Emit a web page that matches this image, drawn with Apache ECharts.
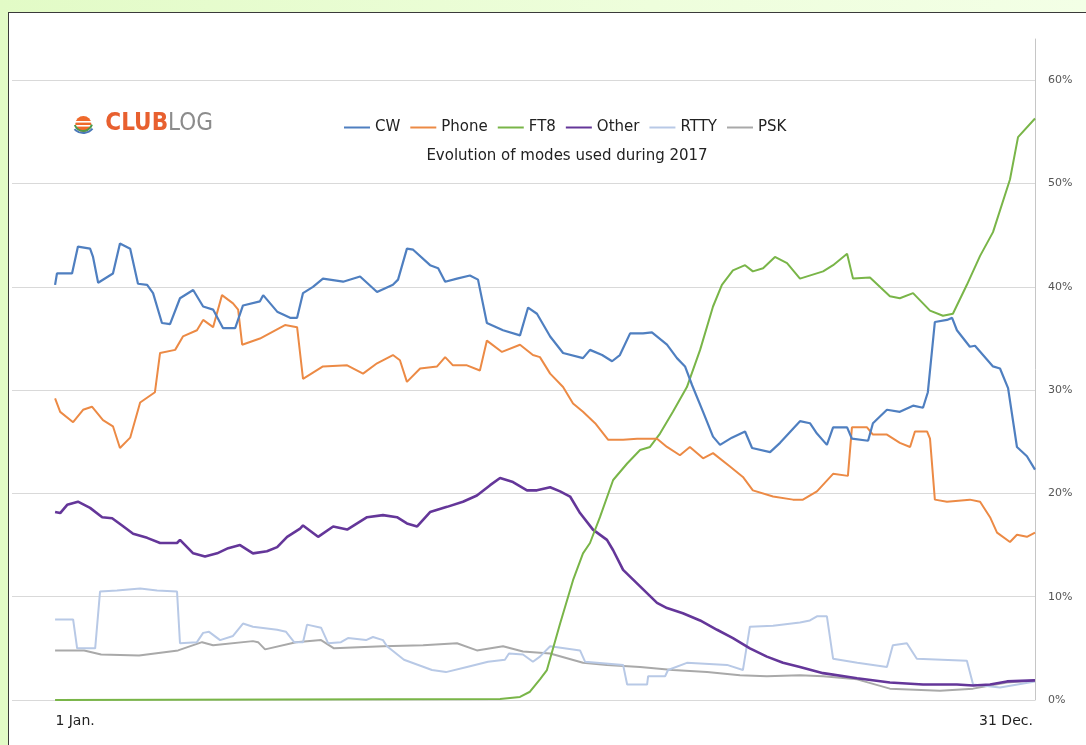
<!DOCTYPE html>
<html>
<head>
<meta charset="utf-8">
<title>Evolution of modes used during 2017</title>
<script src="https://cdn.jsdelivr.net/npm/echarts@6/dist/echarts.min.js"></script>
<style>
  html, body { margin: 0; padding: 0; }
  body {
    width: 1086px; height: 745px; overflow: hidden; position: relative;
    background: linear-gradient(90deg, #e2fbc6 0%, #eefedc 60%, #f3ffe6 100%);
  }
  #panel {
    position: absolute; left: 8px; top: 12px; width: 1090px; height: 740px;
    background: #fff; border-left: 1px solid #3a3a3a; border-top: 1px solid #3a3a3a;
  }
  #chart { position: absolute; left: 0; top: 0; width: 1086px; height: 745px; }
</style>
</head>
<body>
<div id="panel"></div>
<div id="chart"></div>
<script>
// modes, in legend order
const modes = ['CW', 'Phone', 'FT8', 'Other', 'RTTY', 'PSK'];
const chartTitle = 'Evolution of modes used during 2017';
// x = day of the year (0 = 1 Jan., 364 = 31 Dec.), y = share in %
const dayLabels = [[0, '1 Jan.'], [364, '31 Dec.']];
const pctTicks = [0, 10, 20, 30, 40, 50, 60];

const cwData = [
  [0, 40.2], [0.7, 41.3], [6.3, 41.3], [8.5, 43.9], [13, 43.7], [14.1, 42.9], [16, 40.4],
  [21.5, 41.3], [24.1, 44.2], [27.9, 43.7], [30.8, 40.3], [34.2, 40.2], [36.4, 39.4],
  [39.7, 36.5], [42.7, 36.4], [46.4, 38.9], [51.3, 39.7], [55, 38.1], [58.7, 37.8],
  [62.4, 36.0], [66.9, 36.0], [69.8, 38.2], [76.1, 38.6], [77.3, 39.2], [82.5, 37.6],
  [87.3, 37.0], [89.9, 37.0], [92.1, 39.4], [95.8, 40.0], [99.5, 40.8], [107, 40.5],
  [113.3, 41.0], [119.6, 39.5], [125.5, 40.2], [127.4, 40.7], [130.7, 43.7], [133, 43.6],
  [139.3, 42.1], [142.3, 41.8], [144.9, 40.5], [149.3, 40.8], [154.1, 41.1], [157.1, 40.7],
  [160.4, 36.5], [166.4, 35.8], [172.7, 35.3], [175.7, 38.0], [179, 37.4], [183.9, 35.2],
  [188.7, 33.6], [196.1, 33.1], [198.7, 33.9], [203.2, 33.4], [206.9, 32.8], [209.8, 33.4],
  [213.6, 35.5], [218.4, 35.5], [221.7, 35.6], [227.3, 34.4], [231, 33.1], [234, 32.3],
  [236.6, 30.5], [240.7, 27.9], [244.4, 25.5], [247, 24.7], [251.4, 25.4], [256.3, 26.0],
  [258.9, 24.4], [265.6, 24.0], [269.3, 24.9], [276.7, 27.0], [280.4, 26.8], [283, 25.8],
  [286.7, 24.7], [289, 26.4], [294.2, 26.4], [296, 25.3], [302, 25.1], [303.8, 26.8],
  [309, 28.1], [313.8, 27.9], [318.7, 28.5], [322.4, 28.3], [324.2, 29.8], [326.8, 36.6],
  [331.3, 36.8], [333.2, 37.0], [335, 35.8], [339.8, 34.2], [341.7, 34.3], [348.4, 32.3],
  [351, 32.1], [354, 30.2], [357.3, 24.5], [361, 23.6], [364, 22.3]
];

const phoneData = [
  [0, 29.2], [1.9, 27.9], [6.7, 26.9], [10.4, 28.1], [13.7, 28.4], [17.8, 27.1], [21.5, 26.5],
  [24.1, 24.4], [27.9, 25.4], [31.6, 28.8], [37.1, 29.8], [39, 33.6], [44.6, 33.9],
  [47.5, 35.2], [52.7, 35.8], [55, 36.8], [58.7, 36.1], [62, 39.2], [66.1, 38.4], [68, 37.8],
  [69.5, 34.4], [76.1, 35.0], [85.4, 36.3], [89.9, 36.1], [92.1, 31.1], [99.5, 32.3],
  [108.5, 32.4], [114.4, 31.6], [119.6, 32.6], [125.5, 33.4], [128.1, 32.9], [130.7, 30.8],
  [135.6, 32.1], [141.9, 32.3], [144.9, 33.2], [147.8, 32.4], [153, 32.4], [157.8, 31.9],
  [160.4, 34.8], [166, 33.7], [172.7, 34.4], [177.5, 33.4], [180.1, 33.2], [183.9, 31.6],
  [188.7, 30.3], [192.4, 28.7], [196.1, 27.9], [200.6, 26.8], [205.4, 25.2], [211, 25.2],
  [216.2, 25.3], [223.6, 25.3], [227.3, 24.5], [232.1, 23.7], [235.8, 24.5], [240.7, 23.4],
  [244.4, 23.9], [250.7, 22.6], [255.5, 21.6], [259.2, 20.3], [266.7, 19.7], [274.1, 19.4],
  [277.8, 19.4], [283, 20.2], [289, 21.9], [294.5, 21.7], [296, 26.4], [301.6, 26.4],
  [303.8, 25.7], [309, 25.7], [313.8, 24.9], [317.6, 24.5], [319.4, 26.0], [323.9, 26.0],
  [325, 25.3], [326.8, 19.4], [331.3, 19.2], [339.8, 19.4], [343.6, 19.2], [347.3, 17.7],
  [349.9, 16.2], [354.7, 15.3], [357.3, 16.0], [361, 15.8], [364, 16.2]
];

const ft8Data = [
  [0, 0], [165.3, 0.1], [172.7, 0.3], [176.4, 0.8], [180.1, 2.0], [182.7, 2.9], [187.6, 7.4],
  [192.4, 11.6], [196.1, 14.2], [198.7, 15.2], [202.4, 17.7], [207.3, 21.3], [212.5, 22.9],
  [217.3, 24.2], [221, 24.5], [224.7, 25.8], [229.5, 27.9], [234.7, 30.3], [239.6, 33.9],
  [244.4, 38.1], [247.7, 40.2], [251.8, 41.6], [256.3, 42.1], [259.2, 41.5], [263, 41.8],
  [267.4, 42.9], [271.9, 42.3], [276.7, 40.8], [285.3, 41.5], [289, 42.1], [294.2, 43.2],
  [296.4, 40.8], [302.7, 40.9], [310.1, 39.1], [313.8, 38.9], [318.7, 39.4], [325, 37.7],
  [329.8, 37.2], [333.5, 37.4], [338.7, 40.2], [343.6, 43.0], [348.4, 45.3], [354.7, 50.4],
  [357.7, 54.5], [364, 56.3]
];

const otherData = [
  [0, 18.2], [1.9, 18.1], [4.5, 18.9], [8.5, 19.2], [13, 18.6], [17.5, 17.7], [21.2, 17.6],
  [24.9, 16.9], [29, 16.1], [34.2, 15.7], [39, 15.2], [45.3, 15.2], [46.4, 15.5], [51.3, 14.2],
  [55.7, 13.9], [60.2, 14.2], [64.3, 14.7], [68.7, 15.0], [73.5, 14.2], [78.7, 14.4],
  [82.5, 14.8], [86.2, 15.8], [91, 16.6], [92.1, 16.9], [97.7, 15.8], [103.3, 16.8],
  [108.5, 16.5], [115.9, 17.7], [121.8, 17.9], [127, 17.7], [130.7, 17.1], [134.5, 16.8],
  [139.3, 18.2], [145.6, 18.7], [151.5, 19.2], [156.7, 19.8], [161.6, 20.8], [165.3, 21.5],
  [170.1, 21.1], [175.3, 20.3], [179, 20.3], [183.9, 20.6], [187.6, 20.2], [191.3, 19.7],
  [195, 18.1], [199.8, 16.5], [205, 15.5], [207.3, 14.5], [211, 12.6], [217.3, 11.0],
  [223.6, 9.4], [227.3, 8.9], [233.2, 8.4], [239.6, 7.7], [245.9, 6.8], [251.8, 6.0],
  [258.1, 5.0], [264.4, 4.2], [270.4, 3.6], [276.7, 3.2], [285.3, 2.6], [297.9, 2.1],
  [310.1, 1.7], [322.4, 1.5], [335, 1.5], [341, 1.4], [347.3, 1.5], [353.6, 1.8], [364, 1.9]
];

const rttyData = [
  [0, 7.8], [6.7, 7.8], [8.2, 5.0], [14.9, 5.0], [16.7, 10.5], [23, 10.6], [31.6, 10.8],
  [37.9, 10.6], [45.3, 10.5], [46.4, 5.5], [52.7, 5.6], [55, 6.5], [57.2, 6.6], [61.3, 5.8],
  [66.1, 6.2], [69.8, 7.4], [73.5, 7.1], [82.5, 6.8], [85.8, 6.6], [88.8, 5.6], [92.1, 5.6],
  [93.6, 7.3], [98.8, 7.0], [101.4, 5.5], [106.2, 5.6], [108.8, 6.0], [115.5, 5.8],
  [118.1, 6.1], [121.8, 5.8], [123.3, 5.2], [129.6, 3.9], [140, 2.9], [145.2, 2.7],
  [153, 3.2], [160.8, 3.7], [167.1, 3.9], [168.6, 4.5], [173.8, 4.4], [177.5, 3.7],
  [180.1, 4.2], [183.9, 5.2], [195, 4.8], [196.9, 3.7], [211, 3.4], [212.5, 1.5],
  [219.9, 1.5], [220.3, 2.3], [226.6, 2.3], [227.7, 2.9], [234.7, 3.6], [249.6, 3.4],
  [255.5, 2.9], [258.1, 7.1], [266.7, 7.2], [276.7, 7.5], [280.4, 7.7], [283, 8.1],
  [286.7, 8.1], [289, 4.0], [298, 3.6], [309, 3.2], [311.2, 5.3], [316.4, 5.5], [320.1, 4.0],
  [338.7, 3.8], [341, 1.5], [351, 1.2], [364, 1.8]
];

const pskData = [
  [0, 4.8], [10.8, 4.8], [17.1, 4.4], [31.2, 4.3], [45.7, 4.8], [54.6, 5.6], [58.7, 5.3],
  [73.5, 5.7], [75.4, 5.6], [78, 4.9], [89.5, 5.6], [98.8, 5.8], [103.6, 5.0], [121.8, 5.2],
  [136.7, 5.3], [149.3, 5.5], [156.7, 4.8], [166.4, 5.2], [173.8, 4.7], [183.9, 4.5],
  [196.1, 3.6], [205, 3.4], [217.3, 3.2], [229.5, 2.9], [242.2, 2.7], [254.4, 2.4],
  [264.4, 2.3], [276.7, 2.4], [285.3, 2.3], [297.9, 2.0], [310.1, 1.1], [328.7, 0.9],
  [341, 1.1], [353.6, 1.7], [364, 1.9]
];

const seriesData = [cwData, phoneData, ft8Data, otherData, rttyData, pskData];
const colors = ['#4f7fc0', '#ec8a45', '#79b548', '#643699', '#b8c9e6', '#a9a9a9'];
const widths = [2.2, 2, 2, 2.6, 2, 2];

const chart = echarts.init(document.getElementById('chart'), null, { renderer: 'canvas' });

const font = '"DejaVu Sans", "Liberation Sans", sans-serif';
const logoFont = '"Liberation Sans Narrow", "DejaVu Sans Condensed", sans-serif';

const option = {
  animation: false,
  textStyle: { fontFamily: font },
  color: colors,
  title: {
    text: chartTitle,
    left: 562,
    textAlign: 'center',
    top: 144,
    textStyle: { fontSize: 15, fontWeight: 'normal', color: '#222', fontFamily: font }
  },
  legend: {
    data: modes,
    left: 339,
    top: 115,
    icon: 'rect',
    itemWidth: 26,
    itemHeight: 2,
    itemGap: 10,
    textStyle: { fontSize: 15, color: '#222', fontFamily: font }
  },
  grid: { left: 12, right: 51, top: 39, bottom: 45 },
  xAxis: {
    type: 'value',
    min: -16,
    max: 364,
    axisLine: { show: false },
    axisTick: { show: false },
    splitLine: { show: false },
    axisLabel: {
      customValues: dayLabels.map(d => d[0]),
      margin: 14,
      formatter: function (v) {
        const item = dayLabels.find(d => d[0] === v);
        if (!item) return '';
        return v === 0 ? '{l|' + item[1] + '}' : '{r|' + item[1] + '}';
      },
      rich: {
        l: { fontSize: 14, color: '#222', fontFamily: font, padding: [0, 0, 0, 40] },
        r: { fontSize: 14, color: '#222', fontFamily: font, padding: [0, 58, 0, 0] }
      }
    }
  },
  yAxis: {
    type: 'value',
    position: 'right',
    min: 0,
    max: 64,
    interval: 10,
    axisLine: { show: true, onZero: false, lineStyle: { color: '#c6c6c6', width: 1 } },
    axisTick: { show: false },
    axisLabel: {
      customValues: pctTicks,
      margin: 13,
      fontSize: 11,
      color: '#555',
      fontFamily: font,
      formatter: '{value}%'
    },
    splitLine: { show: true, showMaxLine: false, lineStyle: { color: '#d9d9d9', width: 1.2 } }
  },
  graphic: [
    {
      type: 'group',
      left: 72,
      top: 112,
      children: [
        { type: 'circle', shape: { cx: 10, cy: 10, r: 8 }, style: { fill: '#ef6a2c' } },
        { type: 'rect', shape: { x: 0, y: 7, width: 20, height: 1.6 }, style: { fill: '#fff' } },
        { type: 'rect', shape: { x: 0, y: 11, width: 20, height: 1.6 }, style: { fill: '#fff' } },
        { type: 'arc', shape: { cx: 10, cy: 8, r: 9, startAngle: 0.3, endAngle: 2.8 }, style: { stroke: '#4d9a4a', lineWidth: 2, fill: null } },
        { type: 'arc', shape: { cx: 10, cy: 7, r: 12, startAngle: 0.7, endAngle: 2.4 }, style: { stroke: '#4a78b8', lineWidth: 2, fill: null } },
        {
          type: 'text',
          left: 32,
          top: -2,
          style: {
            text: '{a|CLUB}{b|LOG}',
            rich: {
              a: { fontSize: 24, fontWeight: 'bold', fill: '#e8602f', fontFamily: logoFont },
              b: { fontSize: 24, fontWeight: 'normal', fill: '#8c8c8c', fontFamily: logoFont }
            }
          }
        }
      ]
    }
  ],
  series: modes.map((name, i) => ({
    name: name,
    type: 'line',
    data: seriesData[i],
    symbol: 'none',
    showSymbol: false,
    smooth: false,
    z: 10 - i,
    lineStyle: { color: colors[i], width: widths[i] },
    itemStyle: { color: colors[i] }
  }))
};

chart.setOption(option);
</script>
</body>
</html>
